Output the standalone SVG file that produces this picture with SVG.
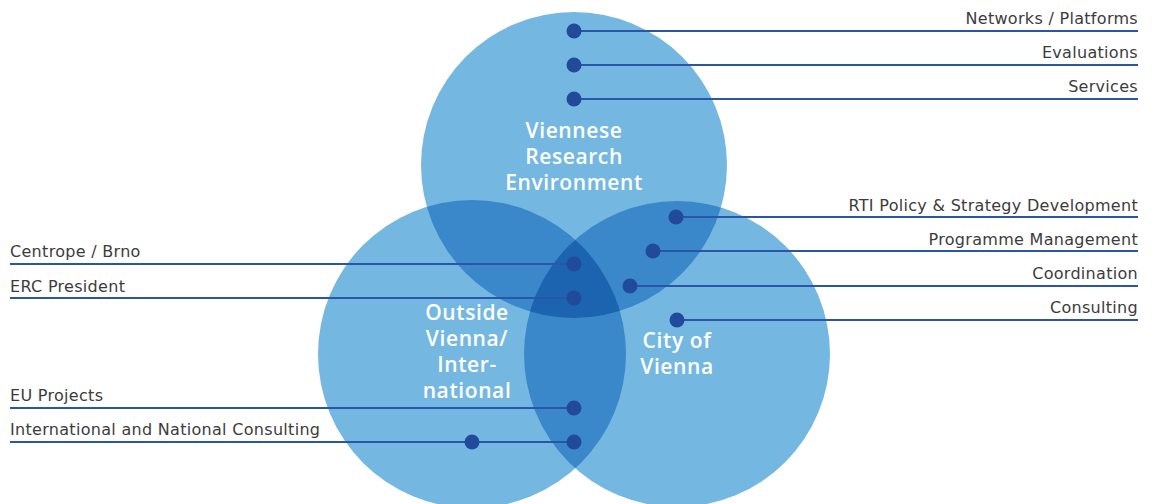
<svg xmlns="http://www.w3.org/2000/svg" width="1157" height="504" viewBox="0 0 1157 504">
<style>
.lbl{font-family:"DejaVu Sans","Liberation Sans",sans-serif;font-size:16px;letter-spacing:0.3px;fill:#3c3c3c;}
.r{text-anchor:end;}
.w{font-family:"Open Sans","Liberation Sans",sans-serif;font-size:21px;font-weight:600;letter-spacing:0.6px;fill:#ffffff;text-anchor:middle;}
.ln{stroke:#2a55a8;stroke-width:2;fill:none;}
.dot{fill:#214a9b;}
</style>
<defs>
<clipPath id="cT"><circle cx="574" cy="165" r="153"/></clipPath>
<clipPath id="cL"><circle cx="472" cy="354" r="154"/></clipPath>
<clipPath id="cR"><circle cx="677" cy="354" r="153"/></clipPath>
</defs>
<g id="circles">
<circle id="top" cx="574" cy="165" r="153" fill="#74b8e2"/>
<circle id="left" cx="472" cy="354" r="154" fill="#74b8e2"/>
<circle id="right" cx="677" cy="354" r="153" fill="#74b8e2"/>
<g clip-path="url(#cT)">
<circle cx="472" cy="354" r="154" fill="#3a88c9"/>
<circle cx="677" cy="354" r="153" fill="#3a88c9"/>
</g>
<g clip-path="url(#cL)">
<circle cx="677" cy="354" r="153" fill="#3a88c9"/>
</g>
<g clip-path="url(#cT)"><g clip-path="url(#cL)">
<circle cx="677" cy="354" r="153" fill="#1c63b0"/>
</g></g>
</g>
<g id="titles">
<text class="w" x="574" y="138">Viennese</text>
<text class="w" x="574" y="164">Research</text>
<text class="w" x="574" y="190">Environment</text>
<text class="w" x="467" y="320">Outside</text>
<text class="w" x="467" y="346">Vienna/</text>
<text class="w" x="467" y="372">Inter-</text>
<text class="w" x="467" y="398">national</text>
<text class="w" x="677" y="348">City of</text>
<text class="w" x="677" y="374">Vienna</text>
</g>
<g id="connectors">
<line class="ln" x1="574" y1="31" x2="1138" y2="31"/>
<line class="ln" x1="574" y1="65" x2="1138" y2="65"/>
<line class="ln" x1="574" y1="99" x2="1138" y2="99"/>
<line class="ln" x1="676" y1="217" x2="1138" y2="217"/>
<line class="ln" x1="653" y1="251" x2="1138" y2="251"/>
<line class="ln" x1="630" y1="286" x2="1138" y2="286"/>
<line class="ln" x1="677" y1="320" x2="1138" y2="320"/>
<line class="ln" x1="10" y1="264" x2="574" y2="264"/>
<line class="ln" x1="10" y1="298" x2="574" y2="298"/>
<line class="ln" x1="10" y1="408" x2="574" y2="408"/>
<line class="ln" x1="10" y1="442" x2="574" y2="442"/>
</g>
<g id="dots">
<circle class="dot" cx="574" cy="31" r="7.5"/>
<circle class="dot" cx="574" cy="65" r="7.5"/>
<circle class="dot" cx="574" cy="99" r="7.5"/>
<circle class="dot" cx="676" cy="217" r="7.5"/>
<circle class="dot" cx="653" cy="251" r="7.5"/>
<circle class="dot" cx="630" cy="286" r="7.5"/>
<circle class="dot" cx="677" cy="320" r="7.5"/>
<circle class="dot" cx="574" cy="264" r="7.5"/>
<circle class="dot" cx="574" cy="298" r="7.5"/>
<circle class="dot" cx="574" cy="408" r="7.5"/>
<circle class="dot" cx="472" cy="442" r="7.5"/>
<circle class="dot" cx="574" cy="442" r="7.5"/>
</g>
<g id="labels">
<text class="lbl r" x="1138" y="24">Networks / Platforms</text>
<text class="lbl r" x="1138" y="58">Evaluations</text>
<text class="lbl r" x="1138" y="92">Services</text>
<text class="lbl r" x="1138" y="211">RTI Policy &amp; Strategy Development</text>
<text class="lbl r" x="1138" y="245">Programme Management</text>
<text class="lbl r" x="1138" y="279">Coordination</text>
<text class="lbl r" x="1138" y="313">Consulting</text>
<text class="lbl" x="10" y="257">Centrope / Brno</text>
<text class="lbl" x="10" y="292">ERC President</text>
<text class="lbl" x="10" y="401">EU Projects</text>
<text class="lbl" x="10" y="435">International and National Consulting</text>
</g>
</svg>
